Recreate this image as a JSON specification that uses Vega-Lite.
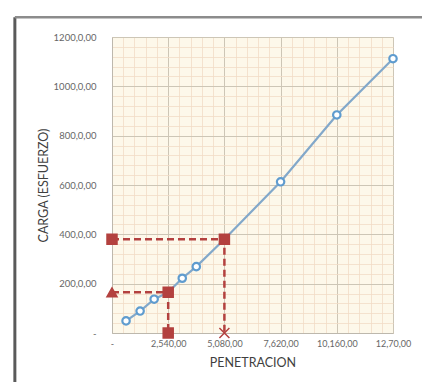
{
  "$schema": "https://vega.github.io/schema/vega-lite/v6.json",
  "width": 281,
  "height": 296,
  "autosize": "none",
  "padding": {"left": 112, "top": 37, "right": 29, "bottom": 49},
  "background": "#ffffff",
  "config": {
    "font": "Lato",
    "view": {"fill": "#fdf8ea", "stroke": null},
    "axis": {"labelFont": "Lato", "titleFont": "Lato"}
  },
  "datasets": {
    "curva": [
      {"penetracion": 635, "carga": 49},
      {"penetracion": 1270, "carga": 89},
      {"penetracion": 1905, "carga": 137},
      {"penetracion": 2540, "carga": 165},
      {"penetracion": 3175, "carga": 222},
      {"penetracion": 3810, "carga": 269},
      {"penetracion": 5080, "carga": 380},
      {"penetracion": 7620, "carga": 613},
      {"penetracion": 10160, "carga": 884},
      {"penetracion": 12700, "carga": 1112}
    ],
    "lecturas": [
      {"serie": "5,08", "orden": 1, "nodo": "A-eje", "penetracion": 0, "carga": 380},
      {"serie": "5,08", "orden": 2, "nodo": "A-curva", "penetracion": 5080, "carga": 380},
      {"serie": "5,08", "orden": 3, "nodo": "A-base", "penetracion": 5080, "carga": 0},
      {"serie": "2,54", "orden": 1, "nodo": "B-eje", "penetracion": 0, "carga": 165},
      {"serie": "2,54", "orden": 2, "nodo": "B-curva", "penetracion": 2540, "carga": 165},
      {"serie": "2,54", "orden": 3, "nodo": "B-base", "penetracion": 2540, "carga": 0}
    ]
  },
  "layer": [
    {
      "data": {"name": "curva"},
      "mark": {"type": "line", "color": "#82a8ca", "strokeWidth": 2.2},
      "encoding": {
        "x": {
          "field": "penetracion", "type": "quantitative",
          "scale": {"domain": [0, 12700], "nice": false, "zero": false},
          "axis": {
            "orient": "top", "labels": false, "ticks": false, "domain": false, "title": null,
            "grid": true, "gridColor": "#f1dcc6", "gridWidth": 0.8,
            "values": [0,508,1016,1524,2032,2540,3048,3556,4064,4572,5080,5588,6096,6604,7112,7620,8128,8636,9144,9652,10160,10668,11176,11684,12192,12700]
          }
        },
        "y": {
          "field": "carga", "type": "quantitative",
          "scale": {"domain": [0, 1200], "nice": false},
          "axis": {
            "orient": "right", "labels": false, "ticks": false, "domain": false, "title": null,
            "grid": true, "gridColor": "#f1dcc6", "gridWidth": 0.8,
            "values": [0,40,80,120,160,200,240,280,320,360,400,440,480,520,560,600,640,680,720,760,800,840,880,920,960,1000,1040,1080,1120,1160,1200]
          }
        }
      }
    },
    {
      "data": {"name": "curva"},
      "mark": {"type": "point", "shape": "circle", "filled": true, "fill": "#ffffff", "stroke": "#5f9ccf", "strokeWidth": 2.2, "size": 55, "opacity": 1},
      "encoding": {
        "x": {
          "field": "penetracion", "type": "quantitative",
          "axis": {
            "orient": "bottom",
            "values": [0, 2540, 5080, 7620, 10160, 12700],
            "labelExpr": "datum.value == 0 ? '-' : datum.value == 2540 ? '2,540,00' : datum.value == 5080 ? '5,080,00' : datum.value == 7620 ? '7,620,00' : datum.value == 10160 ? '10,160,00' : '12,70,00'",
            "labelOverlap": false, "labelBound": false, "labelFlush": false,
            "labelFontSize": 9, "labelColor": "#666666", "labelPadding": 6,
            "ticks": false, "domain": true, "domainColor": "#bdb8ad", "domainWidth": 1,
            "grid": true, "gridColor": "#cdc6b6", "gridWidth": 1,
            "title": "PENETRACION", "titleFontSize": 12.5, "titleFontWeight": "normal", "titleColor": "#3f3f3f", "titlePadding": 8
          }
        },
        "y": {
          "field": "carga", "type": "quantitative",
          "axis": {
            "orient": "left",
            "values": [0, 200, 400, 600, 800, 1000, 1200],
            "labelExpr": "datum.value == 0 ? '-' : datum.value + ',0,00'",
            "labelOverlap": false, "labelBound": false, "labelFlush": false,
            "labelFontSize": 9.5, "labelColor": "#666666", "labelPadding": 16,
            "ticks": false, "domain": true, "domainColor": "#bdb8ad", "domainWidth": 1,
            "grid": true, "gridColor": "#cdc6b6", "gridWidth": 1,
            "title": "CARGA (ESFUERZO)", "titleFontSize": 12.5, "titleFontWeight": "normal", "titleColor": "#3f3f3f", "titlePadding": 3
          }
        }
      }
    },
    {
      "data": {"name": "lecturas"},
      "mark": {"type": "line", "color": "#b3413f", "strokeWidth": 2.5, "strokeDash": [7, 4]},
      "encoding": {
        "x": {"field": "penetracion", "type": "quantitative", "axis": null},
        "y": {"field": "carga", "type": "quantitative", "axis": null},
        "detail": {"field": "serie"},
        "order": {"field": "orden"}
      }
    },
    {
      "data": {"name": "lecturas"},
      "mark": {"type": "point", "filled": true, "color": "#b3413f", "stroke": "#b3413f", "strokeWidth": 1.5, "opacity": 1},
      "encoding": {
        "x": {"field": "penetracion", "type": "quantitative", "axis": null},
        "y": {"field": "carga", "type": "quantitative", "axis": null},
        "shape": {
          "field": "nodo", "type": "nominal", "legend": null,
          "scale": {
            "domain": ["A-eje", "A-curva", "A-base", "B-eje", "B-curva", "B-base"],
            "range": ["square", "square", "M-1,-1L1,1M1,-1L-1,1", "triangle-up", "square", "square"]
          }
        },
        "size": {
          "field": "nodo", "type": "nominal", "legend": null,
          "scale": {
            "domain": ["A-eje", "A-curva", "A-base", "B-eje", "B-curva", "B-base"],
            "range": [100, 100, 30, 50, 100, 100]
          }
        }
      }
    },
    {
      "data": {"values": [{}]},
      "mark": {"type": "rule", "color": "#5a5a5a", "strokeWidth": 3, "clip": false},
      "encoding": {
        "x": {"datum": -4390, "type": "quantitative", "axis": null},
        "y": {"datum": 1280, "type": "quantitative", "axis": null},
        "y2": {"datum": -250}
      }
    },
    {
      "data": {"values": [{}]},
      "mark": {"type": "rule", "color": "#8c8c8c", "strokeWidth": 2.5, "clip": false},
      "encoding": {
        "x": {"datum": -4390, "type": "quantitative", "axis": null},
        "x2": {"datum": 14500},
        "y": {"datum": 1280, "type": "quantitative", "axis": null}
      }
    }
  ],
  "resolve": {"axis": {"x": "independent", "y": "independent"}}
}
